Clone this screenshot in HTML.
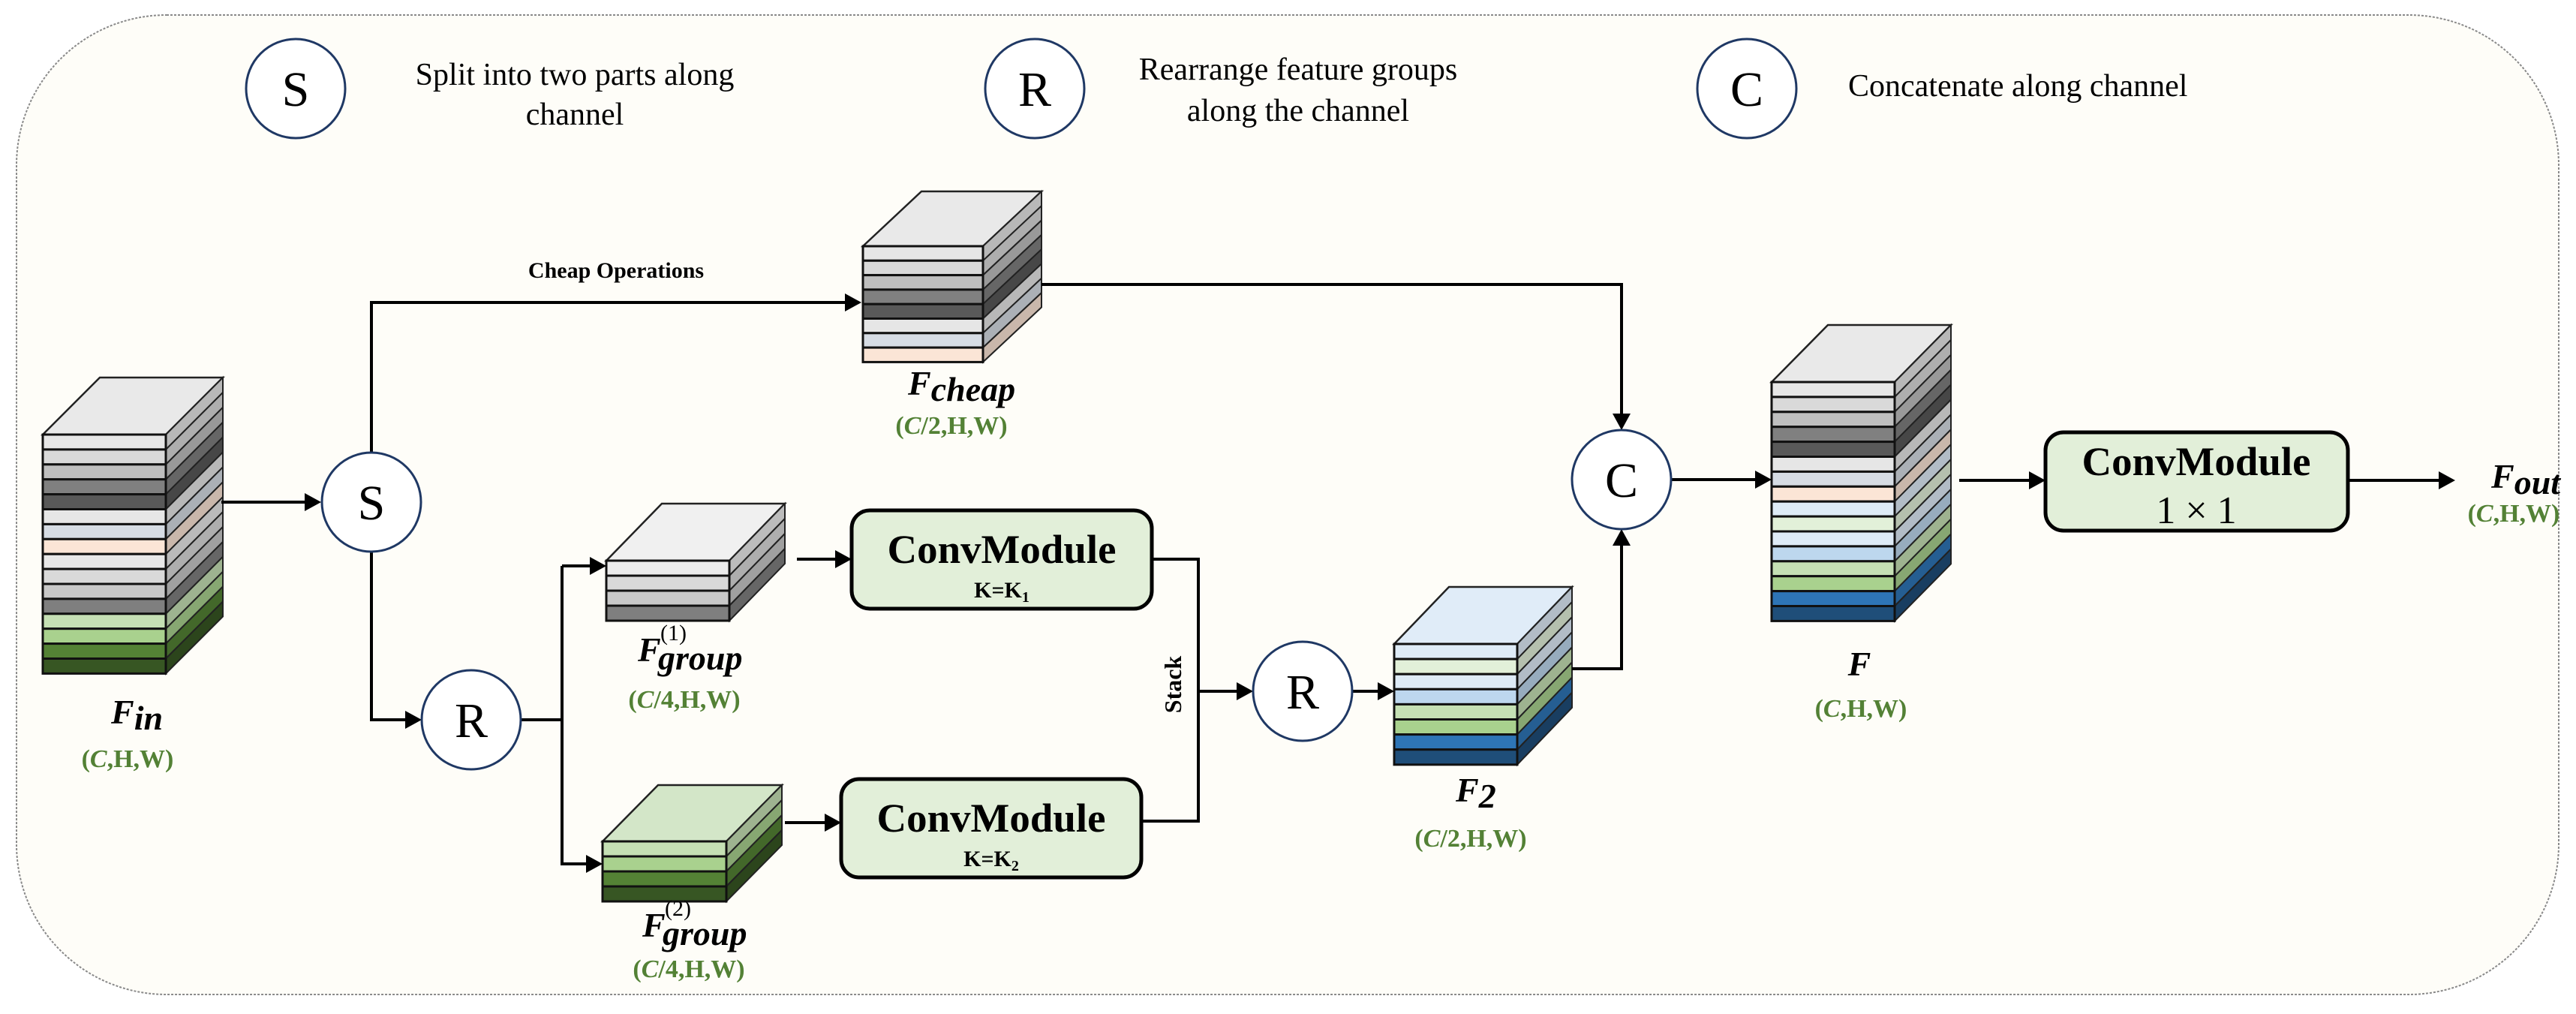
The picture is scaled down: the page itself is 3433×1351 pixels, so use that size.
<!DOCTYPE html>
<html><head><meta charset="utf-8">
<style>
html,body{margin:0;padding:0;background:#fff;}
svg{display:block;}
text{font-family:"Liberation Serif",serif;}
.g{fill:#538135;font-weight:bold;font-size:34px;}
.lg{font-size:42px;fill:#000;}
.m{font-style:italic;font-weight:bold;font-size:46px;}
.cm{font-weight:bold;font-size:54px;}
</style></head>
<body>
<svg id="s" width="3433" height="1351" viewBox="0 0 3433 1351" xmlns="http://www.w3.org/2000/svg">
<rect width="3433" height="1351" fill="#ffffff"/>
<rect x="22" y="20" width="3388" height="1305" rx="200" ry="200" fill="#fefdf8" stroke="#8a8a8a" stroke-width="2" stroke-dasharray="3,2"/>

<!-- legend -->
<g fill="#fff" stroke="#1f3864" stroke-width="3">
<circle cx="394" cy="118" r="66"/><circle cx="1379" cy="118" r="66"/><circle cx="2328" cy="118" r="66"/>
</g>
<g font-size="66" text-anchor="middle">
<text x="394" y="141">S</text><text x="1379" y="141">R</text><text x="2328" y="141">C</text>
</g>
<text class="lg" x="766" y="113" text-anchor="middle">Split into two parts along</text>
<text class="lg" x="766" y="166" text-anchor="middle">channel</text>
<text class="lg" x="1730" y="106" text-anchor="middle">Rearrange feature groups</text>
<text class="lg" x="1730" y="161" text-anchor="middle">along the channel</text>
<text class="lg" x="2463" y="128">Concatenate along channel</text>

<text x="821" y="370" text-anchor="middle" font-weight="bold" font-size="30">Cheap Operations</text>

<g id="cubes"></g>

<!-- connectors -->
<g stroke="#000" stroke-width="4" fill="none">
<polyline points="295,669 410,669"/>
<polyline points="495,603 495,403 1128,403"/>
<polyline points="495,735 495,959 545,959"/>
<polyline points="694,959 749,959"/>
<polyline points="749,754 749,1151 786,1151"/>
<polyline points="749,754 790,754"/>
<polyline points="1062,745 1118,745"/>
<polyline points="1046,1096 1104,1096"/>
<polyline points="1535,745 1597,745 1597,1094 1521,1094"/>
<polyline points="1597,921 1652,921"/>
<polyline points="1802,921 1840,921"/>
<polyline points="2095,891 2161,891 2161,723"/>
<polyline points="1388,379 2161,379 2161,556"/>
<polyline points="2227,639 2343,639"/>
<polyline points="2611,640 2710,640"/>
<polyline points="3129,640 3255,640"/>
</g>
<g fill="#000">
<polygon points="428,669 406,657 406,681"/>
<polygon points="1148,403 1126,391 1126,415"/>
<polygon points="562,959 540,947 540,971"/>
<polygon points="808,754 786,742 786,766"/>
<polygon points="803,1151 781,1139 781,1163"/>
<polygon points="1135,745 1113,733 1113,757"/>
<polygon points="1121,1096 1099,1084 1099,1108"/>
<polygon points="1670,921 1648,909 1648,933"/>
<polygon points="1858,921 1836,909 1836,933"/>
<polygon points="2161,705 2149,727 2173,727"/>
<polygon points="2161,573 2149,551 2173,551"/>
<polygon points="2361,639 2339,627 2339,651"/>
<polygon points="2726,640 2704,628 2704,652"/>
<polygon points="3272,640 3250,628 3250,652"/>
</g>

<!-- circles -->
<g fill="#fff" stroke="#1f3864" stroke-width="3">
<circle cx="495" cy="669" r="66"/><circle cx="628" cy="959" r="66"/>
<circle cx="1736" cy="921" r="66"/><circle cx="2161" cy="639" r="66"/>
</g>
<g font-size="66" text-anchor="middle">
<text x="495" y="692">S</text><text x="628" y="982">R</text>
<text x="1736" y="944">R</text><text x="2161" y="662">C</text>
</g>

<!-- conv modules -->
<g fill="#e2efd9" stroke="#000" stroke-width="5">
<rect x="1135" y="680" width="400" height="131" rx="24"/>
<rect x="1121" y="1038" width="400" height="131" rx="24"/>
<rect x="2726" y="576" width="403" height="131" rx="24"/>
</g>
<g text-anchor="middle">
<text class="cm" x="1335" y="750" textLength="305" lengthAdjust="spacingAndGlyphs">ConvModule</text>
<text x="1335" y="796" font-size="30" font-weight="bold">K=K<tspan font-size="20" dy="6">1</tspan></text>
<text class="cm" x="1321" y="1108" textLength="305" lengthAdjust="spacingAndGlyphs">ConvModule</text>
<text x="1321" y="1154" font-size="30" font-weight="bold">K=K<tspan font-size="20" dy="6">2</tspan></text>
<text class="cm" x="2927" y="633" textLength="305" lengthAdjust="spacingAndGlyphs">ConvModule</text>
<text x="2927" y="697" font-size="52">1 × 1</text>
</g>

<text x="0" y="0" font-weight="bold" font-size="32" text-anchor="middle" transform="translate(1574,912) rotate(-90)">Stack</text>

<!-- labels -->
<text x="148" y="964"><tspan class="m">F</tspan><tspan class="m" font-size="28" dy="8">in</tspan></text>
<text class="g" x="170" y="1022" text-anchor="middle">(<tspan font-style="italic">C</tspan>,H,W)</text>
<text x="1210" y="526"><tspan class="m">F</tspan><tspan class="m" font-size="28" dy="8">cheap</tspan></text>
<text class="g" x="1268" y="578" text-anchor="middle">(<tspan font-style="italic">C</tspan>/2,H,W)</text>

<text class="m" x="850" y="881">F</text>
<text x="880" y="853" font-size="30">(1)</text>
<text x="877" y="892" class="m" font-size="28">group</text>
<text class="g" x="912" y="943" text-anchor="middle">(<tspan font-style="italic">C</tspan>/4,H,W)</text>

<text class="m" x="856" y="1248">F</text>
<text x="886" y="1220" font-size="30">(2)</text>
<text x="883" y="1259" class="m" font-size="28">group</text>
<text class="g" x="918" y="1302" text-anchor="middle">(<tspan font-style="italic">C</tspan>/4,H,W)</text>

<text x="1940" y="1068"><tspan class="m">F</tspan><tspan class="m" font-size="28" dy="8">2</tspan></text>
<text class="g" x="1960" y="1128" text-anchor="middle">(<tspan font-style="italic">C</tspan>/2,H,W)</text>
<text class="m" x="2478" y="900" text-anchor="middle">F</text>
<text class="g" x="2480" y="955" text-anchor="middle">(<tspan font-style="italic">C</tspan>,H,W)</text>
<text x="3320" y="650"><tspan class="m" font-size="40">F</tspan><tspan class="m" font-size="24" dy="8">out</tspan></text>
<text class="g" x="3350" y="695" font-size="28" text-anchor="middle">(<tspan font-style="italic">C</tspan>,H,W)</text>
</svg>
<script>
(function(){
var NS="http://www.w3.org/2000/svg",g=document.getElementById("cubes");
function shade(c,f){var n=parseInt(c.slice(1),16),r=(n>>16)&255,gg=(n>>8)&255,b=n&255;
r=Math.round(r*f);gg=Math.round(gg*f);b=Math.round(b*f);return "rgb("+r+","+gg+","+b+")";}
function el(t,a){var e=document.createElementNS(NS,t);for(var k in a)e.setAttribute(k,a[k]);g.appendChild(e);}
function cube(x,y,w,h,dx,dy,top,cols){
el("polygon",{points:[x,y,x+dx,y-dy,x+w+dx,y-dy,x+w,y].join(","),fill:top,stroke:"#222","stroke-width":2.5});
cols.forEach(function(c,i){var y0=y+i*h,y1=y0+h;
el("polygon",{points:[x+w,y0,x+w+dx,y0-dy,x+w+dx,y1-dy,x+w,y1].join(","),fill:shade(c,0.8),stroke:"#222","stroke-width":2});
el("rect",{x:x,y:y0,width:w,height:h,fill:c,stroke:"#111","stroke-width":3});});}
var gray=["#e6e6e6","#d9d9d9","#bfbfbf","#808080","#595959","#e6e6e6","#d6dce4","#fbe5d6"];
cube(57,579,164,19.9,76,76,"#e9e9e9",gray.concat(["#e8e8e8","#d9d9d9","#c8c8c8","#7f7f7f","#c5e0b4","#a9d18e","#548235","#375623"]));
cube(1150,328,160,19.3,78,73,"#e9e9e9",gray);
cube(808,747,164,20,74,76,"#f0f0f0",["#ebebeb","#d9d9d9","#c8c8c8","#7f7f7f"]);
cube(803,1121,165,20,74,75,"#d3e6c8",["#c5e0b4","#a9d18e","#548235","#375623"]);
cube(1858,858,164,20.1,73,76,"#e0ecf8",["#deebf7","#e2f0d9","#deebf7","#bdd7ee","#c5e0b4","#a9d18e","#2e75b6","#1f4e79"]);
cube(2361,509,164,19.9,75,76,"#e9e9e9",gray.concat(["#deebf7","#e2f0d9","#deebf7","#bdd7ee","#c5e0b4","#a9d18e","#2e75b6","#1f4e79"]));
})();
</script>
</body></html>
